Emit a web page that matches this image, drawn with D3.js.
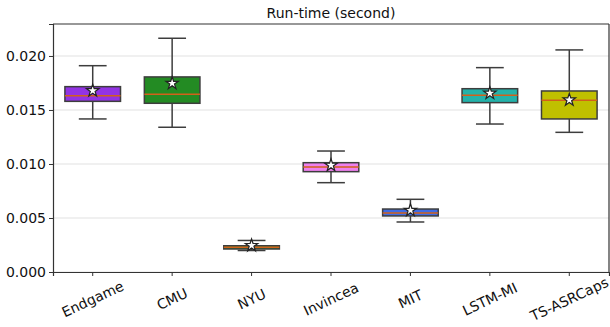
<!DOCTYPE html>
<html>
<head>
<meta charset="utf-8">
<script src="https://cdn.jsdelivr.net/npm/d3@7"></script>
<style>
  body { margin: 0; background: #fff; }
  svg { display: block; font-family: 'DejaVu Sans', sans-serif; }
</style>
</head>
<body>
<svg id="chart" width="610" height="327"></svg>
<script>
// data
const categories = ['Endgame', 'CMU', 'NYU', 'Invincea', 'MIT', 'LSTM-MI', 'TS-ASRCaps'];
const whiskerLow = [0.01417, 0.01340, 0.00199, 0.00827, 0.00463, 0.01370, 0.01293];
const q1 = [0.01580, 0.01562, 0.00213, 0.00929, 0.00519, 0.01568, 0.01417];
const median = [0.01632, 0.01645, 0.00229, 0.00972, 0.00546, 0.01636, 0.01590];
const q3 = [0.01716, 0.01806, 0.00243, 0.01012, 0.00583, 0.01697, 0.01676];
const whiskerHigh = [0.01910, 0.02164, 0.00292, 0.01120, 0.00673, 0.01892, 0.02056];
const means = [0.01679, 0.01747, 0.00245, 0.00988, 0.00571, 0.01655, 0.01593];
const yTicks = [0, 0.005, 0.010, 0.015, 0.020];
const colors = ['#9233e4', '#238b23', '#2c8a2c', '#ee80ee', '#3f6be3', '#23b2aa', '#c0c000'];
const title = 'Run-time (second)';

const svg = d3.select('#chart');
const margin = { top: 24, right: 1, bottom: 55, left: 53 };
const width = +svg.attr('width') - margin.left - margin.right;
const height = +svg.attr('height') - margin.top - margin.bottom;

const g = svg.append('g')
  .attr('transform', 'translate(' + margin.left + ',' + margin.top + ')');

const x = d3.scaleBand().domain(categories).range([0, width]).paddingInner(0).paddingOuter(0);
const y = d3.scaleLinear().domain([0, 0.02296]).range([height, 0]);

const data = categories.map((c, i) => ({
  name: c, lo: whiskerLow[i], q1: q1[i], med: median[i], q3: q3[i],
  hi: whiskerHigh[i], mean: means[i], color: colors[i]
}));

// grid
g.append('g')
  .selectAll('line')
  .data(yTicks)
  .enter()
  .append('line')
  .attr('x1', 0)
  .attr('x2', width)
  .attr('y1', d => y(d))
  .attr('y2', d => y(d))
  .attr('stroke', '#ebebeb')
  .attr('stroke-width', 1.5);

const boxW = x.bandwidth() * 0.7;
const capW = boxW / 2;
const edge = '#3d3d3d';

const boxes = g.append('g')
  .selectAll('g')
  .data(data)
  .enter()
  .append('g')
  .attr('transform', d => 'translate(' + (x(d.name) + x.bandwidth() / 2) + ',0)');

// whiskers
boxes.append('line')
  .attr('x1', 0).attr('x2', 0)
  .attr('y1', d => y(d.q3)).attr('y2', d => y(d.hi))
  .attr('stroke', edge).attr('stroke-width', 1.5);
boxes.append('line')
  .attr('x1', 0).attr('x2', 0)
  .attr('y1', d => y(d.q1)).attr('y2', d => y(d.lo))
  .attr('stroke', edge).attr('stroke-width', 1.5);
// caps
boxes.append('line')
  .attr('x1', -capW / 2).attr('x2', capW / 2)
  .attr('y1', d => y(d.hi)).attr('y2', d => y(d.hi))
  .attr('stroke', edge).attr('stroke-width', 1.5);
boxes.append('line')
  .attr('x1', -capW / 2).attr('x2', capW / 2)
  .attr('y1', d => y(d.lo)).attr('y2', d => y(d.lo))
  .attr('stroke', edge).attr('stroke-width', 1.5);

// box
boxes.append('rect')
  .attr('x', -boxW / 2)
  .attr('width', boxW)
  .attr('y', d => y(d.q3))
  .attr('height', d => y(d.q1) - y(d.q3))
  .attr('fill', d => d.color)
  .attr('stroke', edge)
  .attr('stroke-width', 1.5);

// median
boxes.append('line')
  .attr('x1', -boxW / 2).attr('x2', boxW / 2)
  .attr('y1', d => y(d.med)).attr('y2', d => y(d.med))
  .attr('stroke', '#d2601a').attr('stroke-width', 1.5);

// mean star
boxes.append('path')
  .attr('d', d3.symbol().type(d3.symbolStar).size(48))
  .attr('transform', d => 'translate(0,' + y(d.mean) + ')')
  .attr('fill', '#fff')
  .attr('stroke', '#222')
  .attr('stroke-width', 1.2);

// frame (top/right)
g.append('line').attr('x1', 0).attr('x2', width).attr('y1', 0).attr('y2', 0)
  .attr('stroke', '#333').attr('stroke-width', 1.2);
g.append('line').attr('x1', width).attr('x2', width).attr('y1', 0).attr('y2', height)
  .attr('stroke', '#333').attr('stroke-width', 1.2);

// axes
const yAxis = g.append('g')
  .call(d3.axisLeft(y).tickValues(yTicks).tickFormat(d3.format('.3f')).tickSize(4).tickPadding(3));
const xAxis = g.append('g')
  .attr('transform', 'translate(0,' + height + ')')
  .call(d3.axisBottom(x).tickSize(4).tickFormat(''));

[yAxis, xAxis].forEach(a => {
  a.select('.domain').attr('stroke', '#333').attr('stroke-width', 1.2);
  a.selectAll('.tick line').attr('stroke', '#333');
});
yAxis.selectAll('text').attr('font-size', 14).attr('font-family', "'DejaVu Sans', sans-serif").attr('fill', '#111');

// rotated category labels
g.append('g')
  .selectAll('text')
  .data(categories)
  .enter()
  .append('text')
  .attr('transform', d => 'translate(' + (x(d) + x.bandwidth() / 2) + ',' + (height + 27) + ') rotate(-25)')
  .attr('text-anchor', 'middle')
  .attr('dominant-baseline', 'central')
  .attr('font-size', 14)
  .attr('fill', '#111')
  .text(d => d);

// title
svg.append('text')
  .attr('x', margin.left + width / 2)
  .attr('y', 18)
  .attr('text-anchor', 'middle')
  .attr('font-size', 14)
  .attr('fill', '#111')
  .text(title);
</script>
</body>
</html>
